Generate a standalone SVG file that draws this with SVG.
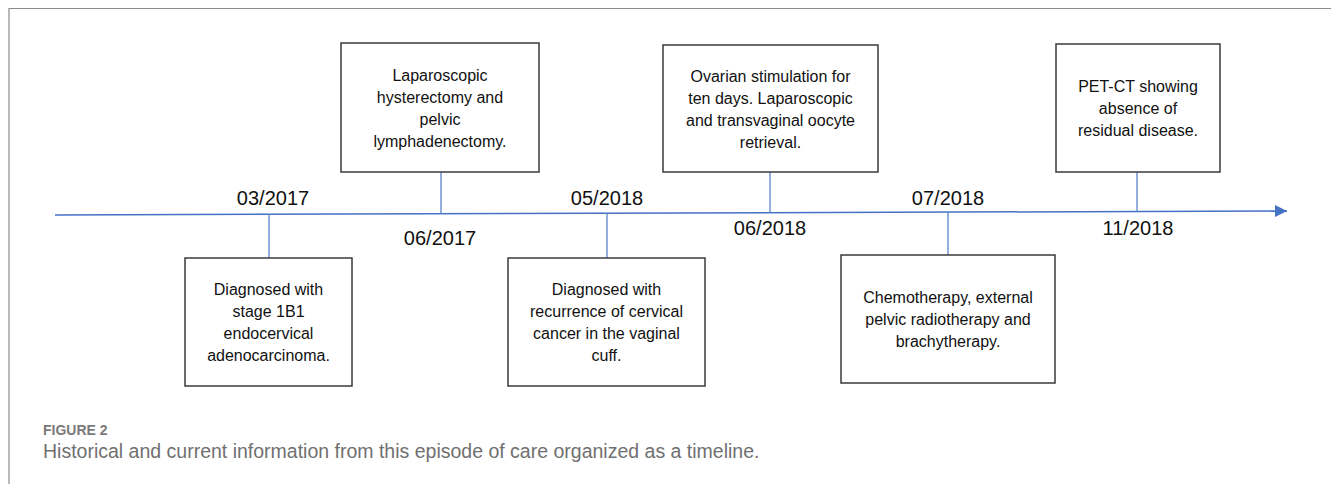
<svg xmlns="http://www.w3.org/2000/svg" width="1331" height="484" viewBox="0 0 1331 484">
<style>
.box{fill:#fff;stroke:#3a3a3a;stroke-width:1.5}
.tick{stroke:#5a84cc;stroke-width:1.3;fill:none}
.t{font-family:"Liberation Sans",Arial,sans-serif;font-size:16px;fill:#111;text-anchor:middle}
.d{font-family:"Liberation Sans",Arial,sans-serif;font-size:20px;fill:#111;text-anchor:middle}
.cap1{font-family:"Liberation Sans",Arial,sans-serif;font-size:14px;font-weight:bold;fill:#7a7a7a}
.cap2{font-family:"Liberation Sans",Arial,sans-serif;font-size:19.5px;fill:#707070}
</style>
<defs>
<marker id="arr" markerWidth="12" markerHeight="12" refX="12" refY="6" orient="auto" markerUnits="userSpaceOnUse">
<path d="M0,0 L12,6 L0,12 Z" fill="#4472c4"/>
</marker>
</defs>
<rect width="1331" height="484" fill="#fff"/>
<g id="frame" fill="none" stroke="#8c8c8c" stroke-width="1.2">
<path d="M9,484 V8.5 H1331"/>
</g>
<g id="connectors">
<line x1="55" y1="215" x2="1287" y2="211" stroke="#4472c4" stroke-width="1.5" marker-end="url(#arr)"/>
<line class="tick" x1="269" y1="214.3" x2="269" y2="258"/>
<line class="tick" x1="441" y1="213.7" x2="441" y2="172"/>
<line class="tick" x1="607" y1="213.2" x2="607" y2="258"/>
<line class="tick" x1="770" y1="212.7" x2="770" y2="172"/>
<line class="tick" x1="948" y1="212.1" x2="948" y2="255"/>
<line class="tick" x1="1137" y1="211.5" x2="1137" y2="172"/>
</g>
<g id="dates">
<text class="d" x="273" y="205">03/2017</text>
<text class="d" x="440" y="245">06/2017</text>
<text class="d" x="607" y="205">05/2018</text>
<text class="d" x="770" y="235">06/2018</text>
<text class="d" x="948" y="205">07/2018</text>
<text class="d" x="1138" y="235">11/2018</text>
</g>
<g id="node1">
<rect class="box" x="185" y="258" width="167" height="128"/>
<text class="t" x="268.5" y="295">Diagnosed with</text>
<text class="t" x="268.5" y="317">stage 1B1</text>
<text class="t" x="268.5" y="339">endocervical</text>
<text class="t" x="268.5" y="361">adenocarcinoma.</text>
</g>
<g id="node2">
<rect class="box" x="341" y="43" width="198" height="129"/>
<text class="t" x="440" y="81">Laparoscopic</text>
<text class="t" x="440" y="103">hysterectomy and</text>
<text class="t" x="440" y="125">pelvic</text>
<text class="t" x="440" y="147">lymphadenectomy.</text>
</g>
<g id="node3">
<rect class="box" x="508" y="258" width="197" height="128"/>
<text class="t" x="606.5" y="295">Diagnosed with</text>
<text class="t" x="606.5" y="317">recurrence of cervical</text>
<text class="t" x="606.5" y="339">cancer in the vaginal</text>
<text class="t" x="606.5" y="361">cuff.</text>
</g>
<g id="node4">
<rect class="box" x="663" y="45" width="215" height="127"/>
<text class="t" x="770.5" y="82">Ovarian stimulation for</text>
<text class="t" x="770.5" y="104">ten days. Laparoscopic</text>
<text class="t" x="770.5" y="126">and transvaginal oocyte</text>
<text class="t" x="770.5" y="148">retrieval.</text>
</g>
<g id="node5">
<rect class="box" x="841" y="255" width="214" height="128"/>
<text class="t" x="948" y="303">Chemotherapy, external</text>
<text class="t" x="948" y="325">pelvic radiotherapy and</text>
<text class="t" x="948" y="347">brachytherapy.</text>
</g>
<g id="node6">
<rect class="box" x="1056" y="44" width="164" height="128"/>
<text class="t" x="1138" y="92">PET-CT showing</text>
<text class="t" x="1138" y="114">absence of</text>
<text class="t" x="1138" y="136">residual disease.</text>
</g>
<g id="caption">
<text class="cap1" x="43" y="435">FIGURE 2</text>
<text class="cap2" x="43" y="458">Historical and current information from this episode of care organized as a timeline.</text>
</g>
</svg>
